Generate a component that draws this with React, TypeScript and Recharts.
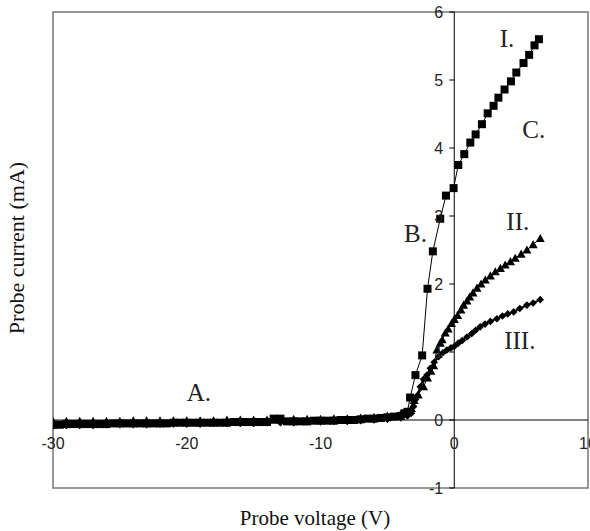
import React from 'react';
import {
  ComposedChart,
  Line,
  XAxis,
  YAxis,
  ReferenceLine,
  ReferenceArea,
  ReferenceDot,
  Customized,
} from 'recharts';

// ---------- data ----------
const voltagesI = [
  -30, -29.5, -29, -28.5, -28, -27.5, -27, -26.5, -26, -25.5, -25, -24.5, -24, -23.5, -23, -22.5,
  -22, -21.5, -21, -20.5, -20, -19.5, -19, -18.5, -18, -17.5, -17, -16.5, -16, -15.5, -15, -14.5,
  -14, -13.5, -13, -12.5, -12, -11.5, -11, -10.5, -10, -9.5, -9, -8.5, -8, -7.5, -7, -6.5, -6,
  -5.5, -5, -4.5, -4, -3.7, -3.5, -3.3, -2.9, -2.4, -2.0, -1.6, -1.05, -0.62, -0.05, 0.3, 0.75,
  1.2, 1.6, 2.07, 2.5, 2.94, 3.3, 3.76, 4.24, 4.64, 5.18, 5.6, 6.0, 6.33,
];
const currentI = [
  -0.07, -0.07, -0.06, -0.06, -0.06, -0.06, -0.06, -0.06, -0.06, -0.05, -0.05, -0.05, -0.05, -0.05,
  -0.05, -0.05, -0.05, -0.05, -0.04, -0.04, -0.04, -0.04, -0.04, -0.04, -0.04, -0.04, -0.04, -0.03,
  -0.03, -0.03, -0.03, -0.03, -0.03, 0.02, 0.02, -0.02, -0.02, -0.02, -0.02, -0.01, -0.01, -0.01,
  -0.01, 0.0, 0.0, 0.0, 0.01, 0.02, 0.02, 0.03, 0.04, 0.05, 0.06, 0.1, 0.12, 0.33, 0.66, 0.95, 1.93,
  2.48, 2.96, 3.3, 3.41, 3.75, 3.91, 4.08, 4.2, 4.35, 4.51, 4.62, 4.74, 4.86, 4.98, 5.11, 5.25, 5.37,
  5.51, 5.6,
];

const voltagesII = [
  -30, -29, -28, -27, -26, -25, -24, -23, -22, -21, -20, -19, -18, -17, -16, -15, -14, -13, -12, -11,
  -10, -9, -8, -7, -6, -5, -4, -3.5, -3.2, -3.0, -2.7, -2.3, -2.0, -1.75, -1.54, -1.3, -1.05, -0.9,
  -0.67, -0.45, -0.2, 0.0, 0.25, 0.5, 0.7, 0.95, 1.15, 1.4, 1.7, 2.0, 2.32, 2.7, 3.07, 3.45, 3.81,
  4.2, 4.56, 5.0, 5.43, 5.9, 6.43,
];
const currentII = [
  -0.02, -0.02, -0.02, -0.02, -0.02, -0.02, -0.01, -0.01, -0.01, -0.01, -0.01, -0.01, -0.01, 0.0, 0.0,
  0.0, 0.0, 0.01, 0.01, 0.01, 0.01, 0.02, 0.02, 0.03, 0.04, 0.06, 0.09, 0.12, 0.17, 0.29, 0.37, 0.49,
  0.62, 0.72, 0.8, 1.03, 1.13, 1.18, 1.28, 1.34, 1.42, 1.48, 1.54, 1.62, 1.69, 1.75, 1.81, 1.87,
  1.94, 2.0, 2.06, 2.12, 2.18, 2.23, 2.28, 2.33, 2.38, 2.44, 2.5, 2.58, 2.67,
];

const voltagesIII = [
  -30, -29, -28, -27, -26, -25, -24, -23, -22, -21, -20, -19, -18, -17, -16, -15, -14, -13, -12, -11,
  -10, -9, -8, -7, -6, -5, -4, -3.5, -3.2, -3.04, -2.9, -2.75, -2.54, -2.3, -2.04, -1.79, -1.5, -1.17,
  -0.85, -0.55, -0.25, 0.0, 0.3, 0.6, 0.95, 1.3, 1.6, 1.94, 2.3, 2.7, 3.19, 3.6, 4.0, 4.44, 4.9, 5.43,
  5.9, 6.43,
];
const currentIII = [
  -0.09, -0.08, -0.08, -0.08, -0.07, -0.07, -0.07, -0.07, -0.06, -0.06, -0.06, -0.06, -0.05, -0.05,
  -0.05, -0.05, -0.04, -0.04, -0.04, -0.03, -0.03, -0.02, -0.02, -0.01, 0.0, 0.01, 0.03, 0.06, 0.1,
  0.2, 0.3, 0.36, 0.49, 0.6, 0.66, 0.76, 0.85, 0.93, 0.99, 1.03, 1.06, 1.08, 1.13, 1.17, 1.22, 1.27,
  1.32, 1.37, 1.41, 1.45, 1.49, 1.53, 1.56, 1.59, 1.64, 1.69, 1.72, 1.77,
];

const xTicks = [-30, -20, -10, 0, 10];
const yTicks = [-1, 0, 1, 2, 3, 4, 5, 6];
const xDomain: [number, number] = [-30, 10];
const yDomain: [number, number] = [-1, 6];

const annotationLabels = ['A.', 'B.', 'C.', 'I.', 'II.', 'III.'];
const annotationX = [-19.1, -2.9, 5.95, 3.95, 4.75, 4.9];
const annotationY = [0.4, 2.74, 4.26, 5.6, 2.91, 1.16];

// ---------- layout ----------
const W = 590;
const H = 531;
const AXIS_H = 30;
const AXIS_W = 30;
// plot area: left 53, top 12, right 2, bottom 43
const M = { top: 12, right: 2, bottom: 43 - AXIS_H, left: 53 - AXIS_W };
const plotLeft = 53;
const plotTop = 12;
const plotW = W - plotLeft - 2;
const plotH = H - plotTop - 43;
const zeroX = plotLeft + (plotW * (0 - xDomain[0])) / (xDomain[1] - xDomain[0]);
const zeroY = plotTop + (plotH * (yDomain[1] - 0)) / (yDomain[1] - yDomain[0]);

const toPoints = (xs: number[], ys: number[]) => xs.map((x, i) => ({ x, y: ys[i] }));
const dataI = toPoints(voltagesI, currentI);
const dataII = toPoints(voltagesII, currentII);
const dataIII = toPoints(voltagesIII, currentIII);

const tickFont = '"Liberation Sans", Arial, sans-serif';
const serif = '"Liberation Serif", "Times New Roman", serif';

const XTick = (props: any) => {
  const { x, payload } = props;
  return (
    <text x={x} y={zeroY + 29} textAnchor="middle" fontSize={16} fill="#222" fontFamily={tickFont}>
      {payload.value}
    </text>
  );
};

const YTick = (props: any) => {
  const { y, payload } = props;
  return (
    <g>
      <line x1={zeroX - 5} x2={zeroX} y1={y} y2={y} stroke="#000" strokeWidth={1} />
      <text x={zeroX - 11} y={y + 5.5} textAnchor="end" fontSize={16} fill="#222" fontFamily={tickFont}>
        {payload.value}
      </text>
    </g>
  );
};

const SquareDot = (p: any) => {
  if (p.cx == null || p.cy == null) return <g key={p.index} />;
  return <rect key={p.index} x={p.cx - 4} y={p.cy - 4} width={8} height={8} fill="#000" />;
};
const TriangleDot = (p: any) => {
  if (p.cx == null || p.cy == null) return <g key={p.index} />;
  const s = 4.5;
  return (
    <polygon
      key={p.index}
      points={`${p.cx},${p.cy - s} ${p.cx + s},${p.cy + s * 0.8} ${p.cx - s},${p.cy + s * 0.8}`}
      fill="#000"
    />
  );
};
const DiamondDot = (p: any) => {
  if (p.cx == null || p.cy == null) return <g key={p.index} />;
  const s = 3.8;
  return (
    <polygon
      key={p.index}
      points={`${p.cx},${p.cy - s} ${p.cx + s},${p.cy} ${p.cx},${p.cy + s} ${p.cx - s},${p.cy}`}
      fill="#000"
    />
  );
};

const Titles = () => (
  <g>
    <text x={315} y={525} textAnchor="middle" fontSize={21} fill="#111" fontFamily={serif}>
      Probe voltage (V)
    </text>
    <text
      x={24}
      y={248}
      transform="rotate(-90 24 248)"
      textAnchor="middle"
      fontSize={22}
      fill="#111"
      fontFamily={serif}
    >
      Probe current (mA)
    </text>
  </g>
);

export default function App() {
  return (
    <div style={{ position: 'absolute', left: 0, top: 0, width: W, height: H, background: '#fff' }}>
      <ComposedChart width={W} height={H} margin={M}>
        <XAxis
          dataKey="x"
          type="number"
          domain={xDomain}
          ticks={xTicks}
          allowDataOverflow
          height={AXIS_H}
          axisLine={false}
          tickLine={false}
          tick={XTick}
          interval={0}
        />
        <YAxis
          type="number"
          domain={yDomain}
          ticks={yTicks}
          allowDataOverflow
          width={AXIS_W}
          axisLine={false}
          tickLine={false}
          tick={YTick}
          interval={0}
        />
        <ReferenceArea
          x1={xDomain[0]}
          x2={xDomain[1]}
          y1={yDomain[0]}
          y2={yDomain[1]}
          fill="none"
          fillOpacity={0}
          stroke="#777"
          strokeWidth={1.5}
        />
        <ReferenceLine x={0} stroke="#000" strokeWidth={1} />
        <ReferenceLine y={0} stroke="#000" strokeWidth={1} />
        <Line
          data={dataIII}
          dataKey="y"
          type="linear"
          stroke="#000"
          strokeWidth={2}
          dot={DiamondDot}
          activeDot={false}
          isAnimationActive={false}
        />
        <Line
          data={dataII}
          dataKey="y"
          type="linear"
          stroke="#000"
          strokeWidth={1}
          dot={TriangleDot}
          activeDot={false}
          isAnimationActive={false}
        />
        <Line
          data={dataI}
          dataKey="y"
          type="linear"
          stroke="#000"
          strokeWidth={1}
          dot={SquareDot}
          activeDot={false}
          isAnimationActive={false}
        />
        {annotationLabels.map((t, i) => (
          <ReferenceDot
            key={t}
            x={annotationX[i]}
            y={annotationY[i]}
            r={0}
            shape={(p: any) => (
              <text
                x={p.cx}
                y={p.cy + 8}
                textAnchor="middle"
                fontSize={25}
                fill="#222"
                fontFamily={serif}
              >
                {t}
              </text>
            )}
          />
        ))}
        <Customized component={Titles} />
      </ComposedChart>
    </div>
  );
}
